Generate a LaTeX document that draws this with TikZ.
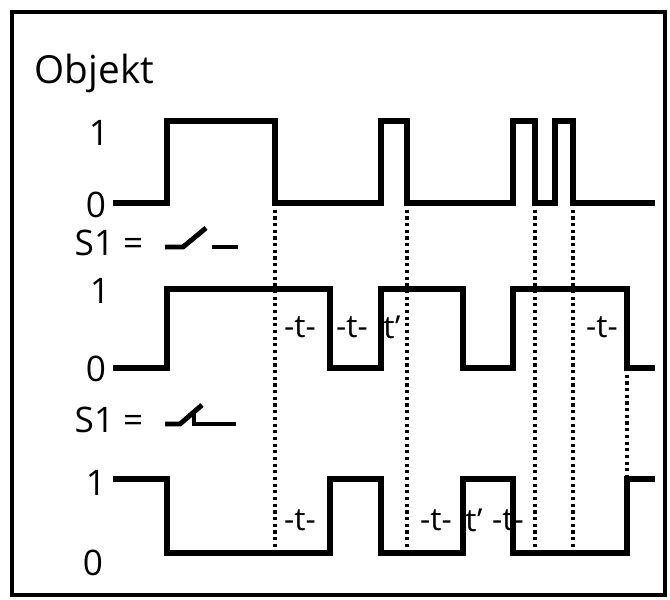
\documentclass[tikz,border=0pt]{standalone}
\usepackage{fontspec}
\setmainfont{Open Sans}
\begin{document}
\begin{tikzpicture}[x=0.01cm,y=-0.01cm,
  sig/.style={line width=1.6pt,line join=miter},
  tmark/.style={densely dotted,line width=0.9pt},
  lab/.style={font=\fontsize{10}{12}\selectfont,inner sep=0pt},
  tl/.style={font=\fontsize{9}{11}\selectfont,inner sep=0pt}]
  \useasboundingbox (0,0) rectangle (670,599);
  \draw[line width=1.2pt] (12,12) rectangle (665,595);

  % signals
  \draw[sig] (113,203) -- (167,203) -- (167,121) -- (275,121) -- (275,203) -- (381,203) -- (381,121)
    -- (407,121) -- (407,203) -- (513,203) -- (513,121) -- (535,121) -- (535,203) -- (555,203)
    -- (555,121) -- (573,121) -- (573,203) -- (655,203);
  \draw[sig] (113,368) -- (167,368) -- (167,289) -- (330,289) -- (330,368) -- (381,368) -- (381,289)
    -- (463,289) -- (463,368) -- (513,368) -- (513,289) -- (627,289) -- (627,368) -- (655,368);
  \draw[sig] (113,479) -- (167,479) -- (167,553) -- (330,553) -- (330,479) -- (381,479) -- (381,553)
    -- (463,553) -- (463,479) -- (513,479) -- (513,553) -- (627,553) -- (627,479) -- (655,479);

  % time markers
  \draw[tmark] (275,203) -- (275,553);
  \draw[tmark] (407,203) -- (407,553);
  \draw[tmark] (535,203) -- (535,548);
  \draw[tmark] (573,203) -- (573,548);
  \draw[tmark] (627,368) -- (627,479);

  \node[tl] (t1) at (300,327) {-t-};
  \node[tl] (t2) at (352,327) {-t-};
  \node[tl] (t3) at (392,327) {t\char"27};
  \node[tl] (t4) at (602,327) {-t-};
  \node[tl] (t5) at (300,520) {-t-};
  \node[tl] (t6) at (436,520) {-t-};
  \node[tl] (t7) at (474,520) {t\char"27};
  \node[tl] (t8) at (508,520) {-t-};

  % labels
  \node[lab,anchor=west] (obj) at (34,73) {\fontsize{11}{13}\selectfont Objekt};
  \node[lab] (a1) at (99,133) {1};
  \node[lab] (a0) at (96,205) {0};
  \node[lab,anchor=west] (s1) at (74,243) {S1 =};
  \node[lab] (b1) at (100,291) {1};
  \node[lab] (b0) at (96,369) {0};
  \node[lab,anchor=west] (s2) at (74,420) {S1 =};
  \node[lab] (c1) at (96,483) {1};
  \node[lab] (c0) at (93,563) {0};

  % contact symbols
  \draw[line width=1.4pt] (165,247) -- (183,247) -- (206,228);
  \draw[line width=1.4pt] (212,247) -- (238,247);
  \draw[line width=1.4pt] (165,424) -- (180,424) -- (202,405);
  \draw[line width=1.4pt] (194,412) -- (194,424) -- (236,424);
\end{tikzpicture}
\end{document}
